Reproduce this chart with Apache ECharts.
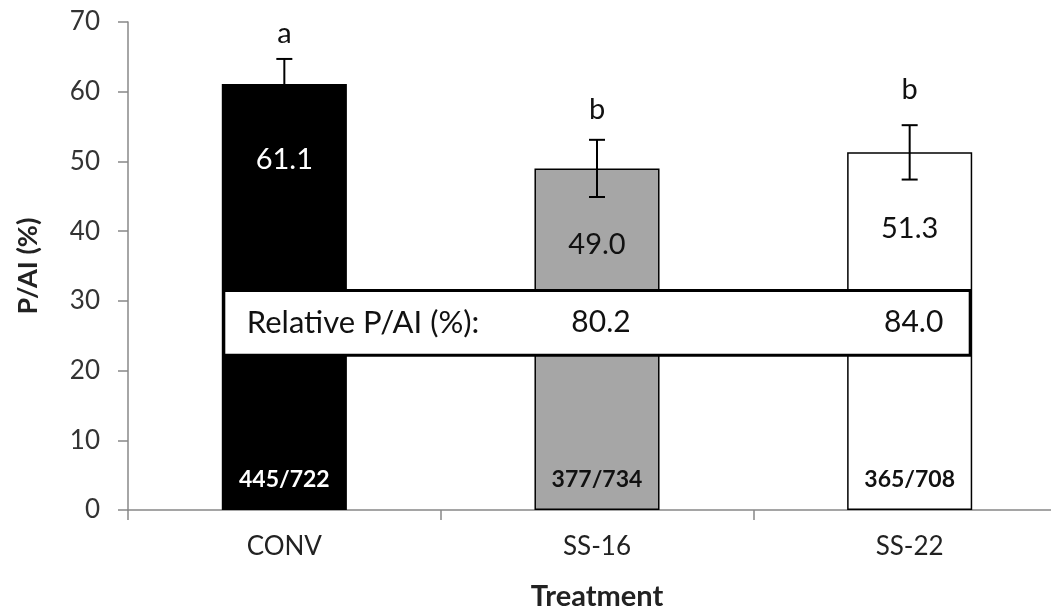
<!DOCTYPE html>
<html>
<head>
<meta charset="utf-8">
<script src="https://cdn.jsdelivr.net/npm/echarts@6/dist/echarts.min.js"></script>
<style>
html,body{margin:0;padding:0;background:#fff;}
#chart{width:1051px;height:609px;}
</style>
</head>
<body>
<div id="chart"></div>
<script>
// ---- data ----
var categories = ['CONV', 'SS-16', 'SS-22'];
var paiValues = [61.1, 49.0, 51.3];
var errValues = [3.6, 4.1, 3.9];
var sigLetters = ['a', 'b', 'b'];
var letterPos = [68.4, 57.4, 60.3];
var ratioLabels = ['445/722', '377/734', '365/708'];
var relativeValues = [null, 80.2, 84.0];
var relativeLabel = 'Relative P/AI (%):';
var relBoxRange = [22.2, 31.5];
var yTicks = [0, 10, 20, 30, 40, 50, 60, 70];

var barColors = ['#000000', '#a6a6a6', '#ffffff'];
var valueLabelColors = ['#ffffff', '#111111', '#111111'];
var FONT = 'Lato, "Open Sans", sans-serif';

var chart = echarts.init(document.getElementById('chart'));

var option = {
  animation: false,
  backgroundColor: '#ffffff',
  grid: { left: 128, width: 938, top: 22, bottom: 99, containLabel: false, outerBoundsMode: 'none' },
  xAxis: {
    type: 'category',
    data: categories,
    name: 'Treatment',
    nameLocation: 'middle',
    nameGap: 72,
    nameTextStyle: { fontFamily: FONT, fontSize: 29, fontWeight: 'bold', color: '#222' },
    axisLine: { lineStyle: { color: '#888888', width: 1.5 } },
    axisTick: { show: true, length: 10, lineStyle: { color: '#888888', width: 1.5 } },
    axisLabel: { fontFamily: FONT, fontSize: 26, color: '#222', margin: 24 },
    splitLine: { show: false }
  },
  yAxis: {
    type: 'value',
    min: yTicks[0],
    max: yTicks[yTicks.length - 1],
    interval: 10,
    name: 'P/AI (%)',
    nameLocation: 'middle',
    nameGap: 86,
    nameRotate: 90,
    nameTextStyle: { fontFamily: FONT, fontSize: 27, fontWeight: 'bold', color: '#222' },
    axisLine: { show: true, lineStyle: { color: '#888888', width: 1.5 } },
    axisTick: { show: true, length: 10, lineStyle: { color: '#888888', width: 1.5 } },
    axisLabel: { fontFamily: FONT, fontSize: 26, color: '#333', margin: 28 },
    splitLine: { show: false }
  },
  series: [
    {
      type: 'bar',
      barWidth: '40%',
      data: paiValues.map(function (v, i) {
        return {
          value: v,
          itemStyle: { color: barColors[i], borderColor: '#000', borderWidth: 1.5 },
          label: { color: valueLabelColors[i] }
        };
      }),
      label: {
        show: true,
        position: ['50%', 76],
        align: 'center',
        verticalAlign: 'middle',
        fontFamily: FONT,
        fontSize: 29,
        formatter: function (p) { return p.value.toFixed(1); }
      },
      z: 2
    },
    {
      type: 'bar',
      barWidth: '40%',
      barGap: '-100%',
      silent: true,
      data: paiValues.map(function (v, i) {
        return {
          value: v,
          itemStyle: { color: 'rgba(0,0,0,0)' },
          label: { color: valueLabelColors[i] }
        };
      }),
      label: {
        show: true,
        position: 'insideBottom',
        distance: 19,
        fontFamily: FONT,
        fontSize: 23,
        fontWeight: 'bold',
        formatter: function (p) { return ratioLabels[p.dataIndex]; }
      },
      z: 3
    },
    {
      type: 'custom',
      z: 5,
      data: paiValues.map(function (v, i) { return [i, v, errValues[i], letterPos[i]]; }),
      renderItem: function (params, api) {
        var i = api.value(0);
        var v = api.value(1);
        var e = api.value(2);
        var top = api.coord([i, v + e]);
        var bot = api.coord([i, v - e]);
        var lp = api.coord([i, api.value(3)]);
        var cw = 8;
        var st = { stroke: '#000', lineWidth: 2 };
        return {
          type: 'group',
          children: [
            { type: 'line', shape: { x1: top[0], y1: top[1], x2: bot[0], y2: bot[1] }, style: st },
            { type: 'line', shape: { x1: top[0] - cw, y1: top[1], x2: top[0] + cw, y2: top[1] }, style: st },
            { type: 'line', shape: { x1: bot[0] - cw, y1: bot[1], x2: bot[0] + cw, y2: bot[1] }, style: st },
            { type: 'text', x: lp[0], y: lp[1], style: { text: sigLetters[i], fill: '#111', font: '29px ' + FONT, align: 'center', verticalAlign: 'middle' } }
          ]
        };
      }
    },
    {
      type: 'custom',
      z: 10,
      data: [[0, relBoxRange[0], relBoxRange[1]]],
      renderItem: function (params, api) {
        var lo = api.value(1), hi = api.value(2);
        var band = api.size([1, 0])[0];
        var c0 = api.coord([0, hi]);
        var c2 = api.coord([categories.length - 1, lo]);
        var half = band * 0.2;
        var x0 = c0[0] - half + 2, x1 = c2[0] + half - 2;
        var y0 = c0[1], y1 = c2[1];
        var ym = (y0 + y1) / 2;
        var children = [
          { type: 'rect', shape: { x: x0, y: y0, width: x1 - x0, height: y1 - y0 },
            style: { fill: '#fff', stroke: '#000', lineWidth: 3 } },
          { type: 'text', x: x0 + 23, y: ym, style: { text: relativeLabel, fill: '#111', font: '31px ' + FONT, align: 'left', verticalAlign: 'middle' } }
        ];
        relativeValues.forEach(function (rv, k) {
          if (rv == null) return;
          var cc = api.coord([k, lo]);
          children.push({ type: 'text', x: cc[0] + 4, y: ym, style: { text: rv.toFixed(1), fill: '#111', font: '30px ' + FONT, align: 'center', verticalAlign: 'middle' } });
        });
        return { type: 'group', children: children };
      }
    }
  ]
};
chart.setOption(option);
</script>
</body>
</html>
